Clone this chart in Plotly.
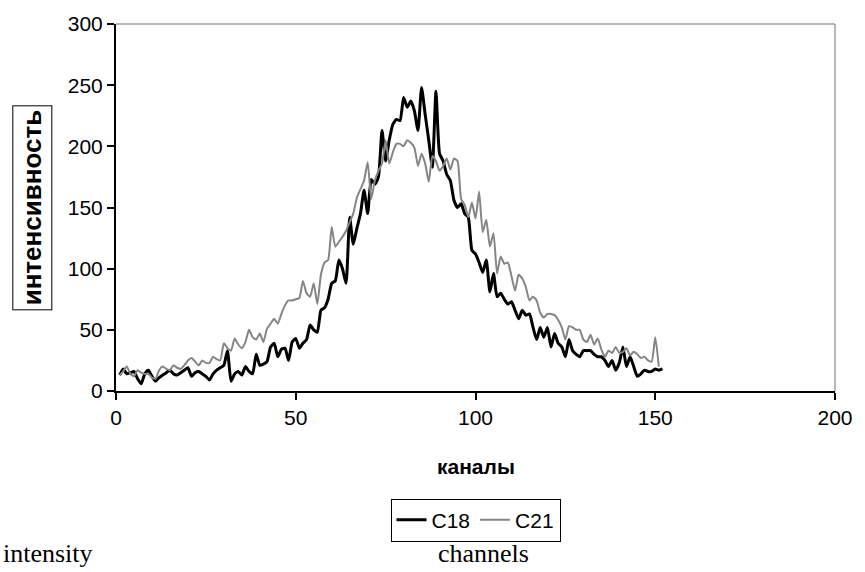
import plotly.graph_objects as go

channels = list(range(1, 153))

c18 = [13, 18, 14, 15, 16, 10, 6, 14, 17, 12, 8, 11, 13, 15, 17, 14, 13, 15, 17, 19,
       12, 15, 16, 14, 12, 9, 14, 17, 19, 21, 33, 8, 14, 16, 13, 20, 16, 14, 30, 21,
       22, 24, 36, 39, 28, 34, 35, 25, 40, 43, 35, 39, 42, 54, 50, 48, 66, 68, 75, 88,
       90, 107, 100, 88, 142, 120, 133, 145, 164, 145, 173, 169, 175, 213, 188, 205, 218, 222, 221, 240,
       232, 237, 229, 213, 248, 226, 205, 183, 245, 194, 188, 177, 172, 156, 150, 153, 145, 142, 115, 112,
       105, 97, 107, 81, 96, 77, 80, 75, 71, 73, 66, 59, 66, 62, 63, 52, 42, 52, 44, 52,
       36, 47, 39, 36, 28, 42, 33, 30, 28, 33, 33, 33, 30, 28, 28, 25, 20, 25, 17, 23,
       36, 20, 28, 20, 12, 14, 17, 16, 16, 18, 17, 18]

c21 = [13, 16, 20, 14, 12, 17, 15, 14, 14, 11, 10, 17, 20, 18, 17, 21, 19, 18, 21, 25,
       27, 24, 21, 25, 23, 23, 28, 26, 25, 39, 35, 33, 43, 38, 35, 40, 50, 44, 42, 47,
       40, 51, 55, 59, 55, 63, 70, 74, 74, 75, 76, 90, 80, 77, 88, 71, 95, 105, 107, 134,
       118, 122, 126, 131, 138, 145, 158, 165, 172, 187, 157, 172, 180, 186, 205, 186, 195, 202, 202, 200,
       205, 203, 199, 184, 194, 186, 171, 192, 188, 180, 184, 190, 181, 190, 188, 157, 152, 142, 154, 141,
       163, 130, 140, 118, 129, 96, 110, 104, 105, 94, 82, 95, 92, 85, 74, 77, 74, 64, 60, 63,
       63, 62, 58, 52, 42, 53, 52, 50, 50, 42, 40, 46, 38, 43, 34, 28, 33, 31, 36, 31,
       32, 35, 29, 32, 30, 27, 28, 25, 24, 44, 20]

x_ticks = [0, 50, 100, 150, 200]
y_ticks = [0, 50, 100, 150, 200, 250, 300]

SANS = "Liberation Sans, Arial, sans-serif"
SERIF = "Liberation Serif, Times New Roman, serif"

fig = go.Figure()
fig.add_trace(go.Scatter(x=channels, y=c18, mode="lines", name="C18",
                         line=dict(color="black", width=3, shape="spline", smoothing=0.5)))
fig.add_trace(go.Scatter(x=channels[:len(c21)], y=c21, mode="lines", name="C21",
                         line=dict(color="#858585", width=2, shape="spline", smoothing=0.5)))

axis_font = dict(family=SANS, size=21, color="black")

fig.update_layout(
    width=865, height=572,
    margin=dict(l=116, r=23, t=23, b=181),
    paper_bgcolor="white", plot_bgcolor="white",
    showlegend=True,
    legend=dict(orientation="h", x=(479 - 116) / 726, xanchor="center",
                y=(391 - 499) / 368, yanchor="top",
                bordercolor="black", borderwidth=1, itemwidth=30,
                font=dict(family=SANS, size=21, color="black"),
                tracegroupgap=0, itemsizing="trace"),
    xaxis=dict(range=[0, 200], tickvals=x_ticks, ticks="outside", ticklen=7, tickwidth=2,
               tickcolor="black", showline=True, linecolor="black", linewidth=2,
               showgrid=False, zeroline=False, tickfont=axis_font),
    yaxis=dict(range=[0, 300], tickvals=y_ticks, ticks="outside", ticklen=7, tickwidth=2,
               tickcolor="black", showline=True, linecolor="black", linewidth=2,
               showgrid=False, zeroline=False, tickfont=axis_font),
    shapes=[
        dict(type="line", xref="paper", yref="paper", x0=0, x1=1, y0=1, y1=1,
             line=dict(color="#a0a0a0", width=1.5)),
        dict(type="line", xref="paper", yref="paper", x0=1, x1=1, y0=0, y1=1,
             line=dict(color="#a0a0a0", width=1.5)),
    ],
    annotations=[
        dict(text="<b>интенсивность</b>", xref="paper", yref="paper",
             x=(31 - 116) / 726, y=(391 - 207) / 368, xanchor="center", yanchor="middle",
             textangle=-90, showarrow=False, bordercolor="black", borderwidth=1, borderpad=4,
             bgcolor="white",
             font=dict(family=SANS, size=26, color="black")),
        dict(text="<b>каналы</b>", xref="paper", yref="paper",
             x=(479 - 116) / 726, y=(391 - 467) / 368, xanchor="center", yanchor="middle",
             showarrow=False,
             font=dict(family=SANS, size=21, color="black")),
        dict(text="intensity", xref="paper", yref="paper",
             x=(0 - 116) / 726, y=(391 - 554) / 368, xanchor="left", yanchor="middle",
             showarrow=False,
             font=dict(family=SERIF, size=26, color="black")),
        dict(text="channels", xref="paper", yref="paper",
             x=(487 - 116) / 726, y=(391 - 554) / 368, xanchor="center", yanchor="middle",
             showarrow=False,
             font=dict(family=SERIF, size=26, color="black")),
    ],
)

fig.write_html("out.html")
